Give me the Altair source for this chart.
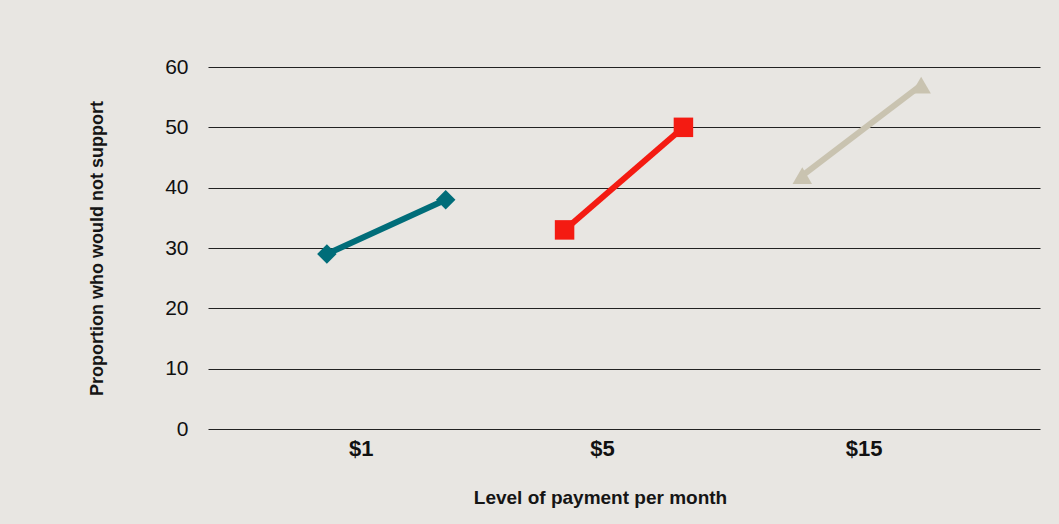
import altair as alt
import pandas as pd

# data
series = ["$1", "$1", "$5", "$5", "$15", "$15"]
slot = [1, 2, 3, 4, 5, 6]
values = [29, 38, 33, 50, 42, 57]

cat_labels = ["$1", "$5", "$15"]
cat_pos = [1.29, 3.32, 5.52]

colors = ["#006d79", "#f41b12", "#c9c3b0"]
shapes = ["diamond", "square", "triangle-up"]

df = pd.DataFrame({"series": series, "slot": slot, "value": values})
lab = pd.DataFrame({"label": cat_labels, "pos": cat_pos})

BG = "#e8e6e2"

xscale = alt.Scale(domain=[0, 7])
yscale = alt.Scale(domain=[0, 60])

color = alt.Color("series:N", scale=alt.Scale(domain=cat_labels, range=colors), legend=None)
shape = alt.Shape("series:N", scale=alt.Scale(domain=cat_labels, range=shapes), legend=None)

base = alt.Chart(df)

lines = base.mark_line(strokeWidth=6).encode(
    x=alt.X("slot:Q", scale=xscale,
            axis=alt.Axis(labels=False, ticks=False, domain=False, grid=False,
                          title="Level of payment per month", titleFont="Liberation Sans",
                          titleFontSize=19, titleFontWeight="bold", titleColor="#151515",
                          titleX=392, titleY=74, titleAnchor="middle", titleBaseline="alphabetic")),
    y=alt.Y("value:Q", scale=yscale,
            axis=alt.Axis(values=[0, 10, 20, 30, 40, 50, 60], ticks=False, domain=False,
                          grid=True, gridColor="#222", gridWidth=1,
                          labelFont="Liberation Sans", labelFontSize=21, labelColor="#111",
                          labelPadding=20,
                          title="Proportion who would not support", titleFont="Liberation Sans",
                          titleFontSize=18, titleFontWeight="bold", titleColor="#151515",
                          titleAngle=-90, titleX=-111, titleY=181, titleAlign="center",
                          titleBaseline="middle")),
    color=color,
    detail="series:N",
)

points = base.mark_point(filled=True, opacity=1, size=380).encode(
    x=alt.X("slot:Q", scale=xscale),
    y=alt.Y("value:Q", scale=yscale),
    color=color,
    shape=shape,
)

texts = alt.Chart(lab).mark_text(font="Liberation Sans", fontSize=22, fontWeight="bold",
                                 color="#111", baseline="middle", align="center").encode(
    x=alt.X("pos:Q", scale=xscale),
    y=alt.value(382),
    text="label:N",
)

chart = alt.layer(lines, points, texts).properties(
    width=832, height=362,
    background=BG,
    autosize=alt.AutoSizeParams(type="none"),
    padding={"left": 208, "top": 67, "right": 19, "bottom": 95},
).configure_view(stroke=None)

chart.save("out.html", embed_options={"renderer": "svg", "actions": False})
